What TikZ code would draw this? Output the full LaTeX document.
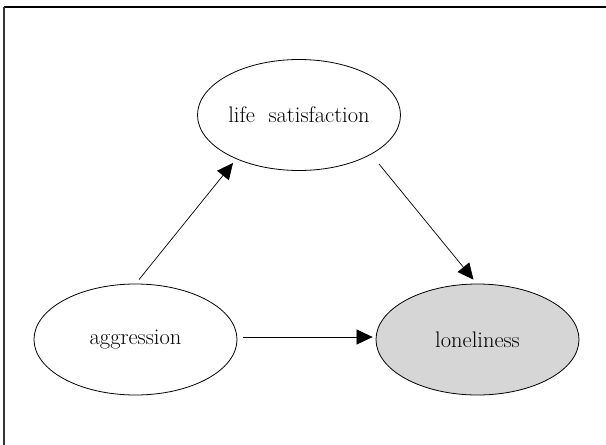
\documentclass[tikz,border=0pt]{standalone}
\usetikzlibrary{arrows.meta,shapes.geometric}
\definecolor{lonefill}{HTML}{D6D6D6}
\definecolor{framegray}{HTML}{333333}
\begin{document}
\begin{tikzpicture}[x=1pt,y=-1pt,
  var/.style={ellipse,draw=black,line width=0.8pt,minimum width=203pt,minimum height=111pt,inner sep=0pt,
    font=\fontsize{22.5}{26}\selectfont},
  conn/.style={line width=0.7pt,-{Triangle[length=16pt,width=15pt]}}]
\useasboundingbox (0,0) rectangle (606,445);
\draw[line width=1.3pt,black] (4,7) -- (606,7);
\draw[line width=1.3pt,framegray] (4,7) -- (4,445);
\node[var] (life) at (299,115) {life\ \ satisfaction};
\node[var] (agg) at (135.5,339.5) {aggression};
\node[var,fill=lonefill] (lone) at (477.5,339.5) {loneliness};
\draw[conn] ([shift={(3.5,-4)}]agg.north) -- ([shift={(-66,48)}]life.center);
\draw[conn] ([shift={(80,49)}]life.center) -- ([shift={(-4,-4)}]lone.north);
\draw[conn] ([shift={(6,-2.5)}]agg.east) -- ([shift={(-3,-2.5)}]lone.west);
\end{tikzpicture}
\end{document}
